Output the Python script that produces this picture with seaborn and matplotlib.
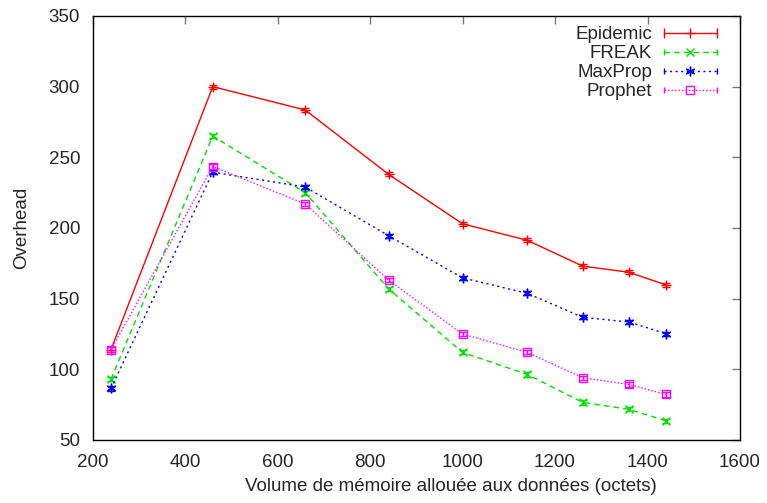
import matplotlib
matplotlib.use("Agg")
import matplotlib.pyplot as plt
from matplotlib.lines import Line2D
from matplotlib.legend_handler import HandlerLine2D
import seaborn as sns
import pandas as pd
import numpy as np

# Data
volume = [240, 460, 660, 840, 1000, 1140, 1260, 1360, 1440]
epidemic = [114, 300, 283.5, 238, 203, 191.3, 173, 168.7, 159.7]
freak = [93, 265, 225, 157, 112, 96.4, 76.6, 71.7, 63.6]
maxprop = [86.5, 239.5, 229, 194.6, 164.7, 153.8, 136.8, 133.5, 125.2]
prophet = [114, 243.5, 217, 163.2, 125, 112, 94, 89.3, 82.2]
err = [1.5, 1.5, 1.5, 1.5, 1.5, 1.5, 1.5, 1.5, 1.5]

names = ["Epidemic", "FREAK", "MaxProp", "Prophet"]
series = [epidemic, freak, maxprop, prophet]

df = pd.concat([pd.DataFrame({"volume": volume, "overhead": s, "err": err, "proto": n})
                for n, s in zip(names, series)], ignore_index=True)

sns.set_style("white")
plt.rcParams["font.family"] = ["Liberation Sans", "DejaVu Sans"]
FS = 13.5

W, H = 767, 503
fig = plt.figure(figsize=(W / 100, H / 100), dpi=100)
L, R, T, B = 92.5, 740, 16, 440
ax = fig.add_axes([L / W, 1 - B / H, (R - L) / W, (B - T) / H])

styles = {
    "Epidemic": dict(color="#ff0000", marker="+", ls="-", ms=7, cap=7),
    "FREAK": dict(color="#00e000", marker="x", ls=(0, (4, 3)), ms=6, cap=4),
    "MaxProp": dict(color="#0000ff", marker=(6, 2, 0), ls=(0, (1.5, 2.5)), ms=7, cap=4),
    "Prophet": dict(color="#ff00ff", marker="s", ls=(0, (1, 1.5)), ms=6, cap=4),
}

handles = []
hmap = {}
for n in names:
    sub = df[df["proto"] == n]
    st = styles[n]
    sns.lineplot(data=sub, x="volume", y="overhead", ax=ax, color=st["color"],
                 marker=st["marker"], linestyle=st["ls"], markersize=st["ms"],
                 markerfacecolor="none", markeredgecolor=st["color"],
                 markeredgewidth=1.0, linewidth=1.0, legend=False)
    ax.errorbar(sub["volume"], sub["overhead"], yerr=sub["err"], fmt="none",
                ecolor=st["color"], elinewidth=1.0, capsize=3, capthick=1.0)
    hl = Line2D([], [], color=st["color"], ls=st["ls"], lw=1.0, marker=st["marker"],
                ms=st["ms"], mfc="none", mec=st["color"], mew=1.0)
    hc = Line2D([], [], color=st["color"], ls="none", marker="|", ms=st["cap"], mew=1.0)
    hmap[hc] = HandlerLine2D(numpoints=2, marker_pad=0)
    handles.append((hl, hc))

ax.set_xlim(200, 1600)
ax.set_ylim(50, 350)
ax.set_xticks(range(200, 1601, 200))
ax.set_yticks(range(50, 351, 50))
ax.tick_params(axis="both", which="both", direction="in", length=6, width=1,
               labelsize=FS, top=True, right=True, color="#777777")
ax.tick_params(axis="y", pad=9)
ax.tick_params(axis="x", pad=10)
for sp in ax.spines.values():
    sp.set_color("black")
    sp.set_linewidth(1.0)

ax.set_xlabel("Volume de mémoire allouée aux données (octets)", fontsize=FS)
ax.set_ylabel("Overhead", fontsize=FS)
ax.xaxis.set_label_coords((451 - L) / (R - L), (B - 478) / (B - T))
ax.yaxis.set_label_coords((30 - L) / (R - L), 0.5)

leg = ax.legend(handles, names, handler_map=hmap, loc="upper right",
                bbox_to_anchor=((717 - L) / (R - L), (B - 26) / (B - T)),
                frameon=False, markerfirst=False, fontsize=FS, handlelength=2.85,
                labelspacing=0.1, handletextpad=0.6, borderaxespad=0, borderpad=0)

fig.savefig("out.png", dpi=100)
